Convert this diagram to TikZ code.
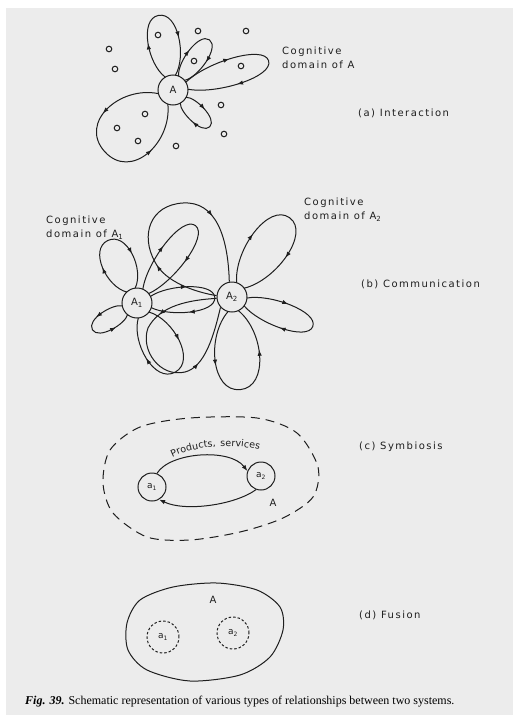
\documentclass[tikz,border=0pt]{standalone}
\usepackage{fontspec}
\setmainfont{Liberation Serif}
\newfontfamily\lblfont{DejaVu Sans}[LetterSpace=15]
\usepackage{tikz}
\usetikzlibrary{arrows.meta, calc, decorations.markings, decorations.text}
\definecolor{PageGrey}{RGB}{236,236,236}
\definecolor{Ink}     {RGB}{ 30, 30, 30}

\tikzset{
  flow/.style={draw=Ink, line width=1pt, postaction={decorate},
    decoration={markings,
      mark=at position 0.27 with {\arrow{Latex[length=6pt,width=4.4pt]}},
      mark=at position 0.73 with {\arrow{Latex[length=6pt,width=4.4pt]}}}},
  backflow/.style={draw=Ink, line width=1pt, postaction={decorate},
    decoration={markings,
      mark=at position 0.27 with {\arrow{Latex[reversed,length=6pt,width=4.4pt]}},
      mark=at position 0.73 with {\arrow{Latex[reversed,length=6pt,width=4.4pt]}}}},
  agent/.style={circle, draw=Ink, line width=1pt, minimum size=30pt,
    inner sep=0pt, fill=PageGrey, text=Ink, font=\lblfont\fontsize{10}{12}\selectfont},
  member/.style={circle, draw=Ink, line width=1pt, minimum size=28pt,
    inner sep=0pt, text=Ink, font=\lblfont\fontsize{9}{11}\selectfont},
  note/.style={anchor=west, align=left, inner sep=0pt, text=Ink,
    font=\lblfont\fontsize{10}{14}\selectfont},
  dot/.style={draw=Ink, line width=1pt},
  exchange/.style={draw=Ink, line width=1pt, -{Latex[length=6pt,width=4.4pt]}},
}

% petal: [style]{node}{angle}{length}{side offset}{spread at node}
\newcommand{\petal}[6][flow]{%
  \draw[#1] ($(#2)+(#3+#6:15)$)
    .. controls ($(#2)+(#3:{#4*0.4})+(#3+90:#5)$) and ($(#2)+(#3:#4)+(#3+90:#5)$)
    .. ($(#2)+(#3:#4)$)
    .. controls ($(#2)+(#3:#4)+(#3-90:#5)$) and ($(#2)+(#3:{#4*0.4})+(#3-90:#5)$)
    .. ($(#2)+(#3-#6:15)$);}

\begin{document}
\begin{tikzpicture}[x=1pt, y=1pt]
  \useasboundingbox (0,0) rectangle (513,-715);
  \fill[white] (0,0) rectangle (513,-715);
  \fill[PageGrey] (6,-8) rectangle (513,-715);

  % (a) interaction
  \node[agent] (A) at (173,-90) {A};
  \petal{A}{101}{76}{20}{20}
  \petal{A}{54}{62}{13}{14}
  \petal{A}{17}{100}{17}{14}
  \petal{A}{-45}{52}{11}{16}
  \petal[backflow]{A}{222}{92}{39}{28}
  \foreach \x/\y in {158/-35, 198/-31, 246/-31, 109/-49, 115/-69, 194/-61,
                     241/-66, 221/-105, 224/-134, 176/-146, 145/-114,
                     117/-128, 138/-141}
    \draw[dot] (\x,\y) circle (2.8pt);
  \node[note] (domA) at (282,-58) {Cognitive\\domain of A};
  \node[note] (labA) at (358,-113) {(a) Interaction};

  % (b) communication
  \node[agent] (A1) at (137,-303) {A\textsubscript{1}};
  \node[agent] (A2) at (232,-297) {A\textsubscript{2}};
  \petal{A1}{115}{69}{21}{18}
  \petal[backflow]{A1}{211}{52}{12}{20}
  \petal{A1}{53}{97}{17}{14}
  \petal{A1}{4}{78}{16}{22}
  \petal{A1}{-61}{79}{24}{24}
  \petal{A2}{54}{98}{26}{18}
  \petal{A2}{-20}{86}{16}{16}
  \petal[backflow]{A2}{-85}{93}{29}{20}
  \draw[flow] (A2.175) .. controls (195,-292) and (165,-282) .. (155,-262)
    .. controls (140,-235) and (150,-205) .. (183,-203)
    .. controls (215,-201) and (228,-235) .. (A2.100);
  \draw[flow] (A2.185) .. controls (190,-300) and (160,-305) .. (148,-328)
    .. controls (140,-350) and (160,-378) .. (185,-372)
    .. controls (205,-367) and (214,-335) .. (A2.222);
  \node[note] (domA1) at (46,-228) {Cognitive\\domain of A\textsubscript{1}};
  \node[note] (domA2) at (304,-210) {Cognitive\\domain of A\textsubscript{2}};
  \node[note] (labB) at (361,-284) {(b) Communication};

  % (c) symbiosis
  \draw[draw=Ink, line width=1pt, dash pattern=on 9pt off 6pt]
    plot[smooth cycle] coordinates {(103,-483) (110,-450) (140,-427) (190,-418)
      (257,-418) (297,-433) (318,-467) (313,-497) (283,-518) (240,-532)
      (190,-540) (147,-537) (113,-513)};
  \node[member] (a1) at (152,-487) {a\textsubscript{1}};
  \node[member] (a2) at (261,-476) {a\textsubscript{2}};
  \draw[exchange] (a1.70) .. controls (170,-452) and (230,-448) .. (a2.160);
  \draw[exchange] (a2.-110) .. controls (235,-505) and (185,-512) .. (a1.-60);
  \path[decorate, decoration={text along path, text align=center, raise=2pt,
      text={|\lblfont\fontsize{9.5}{11}\selectfont\color{Ink}|Products, services}}]
    (150,-476) .. controls (178,-444) and (245,-440) .. (286,-462);
  \node[note, anchor=center] (symA) at (273,-503) {A};
  \node[note] (labC) at (359,-447) {(c) Symbiosis};

  % (d) fusion
  \draw[draw=Ink, line width=1pt]
    plot[smooth cycle] coordinates {(127,-623) (140,-600) (173,-587) (217,-583)
      (257,-590) (280,-607) (283,-630) (270,-657) (240,-675) (190,-681)
      (147,-670) (128,-650)};
  \node[note, anchor=center] (fusA) at (213,-600) {A};
  \node[member, minimum size=32pt, dash pattern=on 2.5pt off 2pt] (b1) at (163,-637) {a\textsubscript{1}};
  \node[member, minimum size=32pt, dash pattern=on 2.5pt off 2pt] (b2) at (233,-633) {a\textsubscript{2}};
  \node[note] (labD) at (359,-615) {(d) Fusion};

  \node[anchor=west, inner sep=0pt, font=\fontsize{12}{14}\selectfont] (caption) at (25,-702)
    {\textbf{\textit{Fig. 39.}} Schematic representation of various types of relationships between two systems.};
\end{tikzpicture}
\end{document}
